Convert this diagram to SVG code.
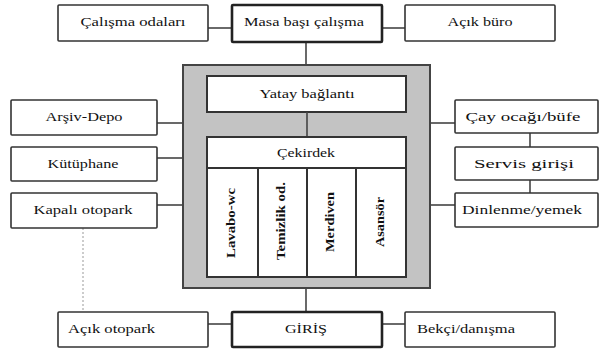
<svg xmlns="http://www.w3.org/2000/svg" width="602" height="354" viewBox="0 0 602 354">
<style>
.box{fill:#fff;stroke:#333;stroke-width:1.6}
.bold{fill:#fff;stroke:#222;stroke-width:2.6}
.core{fill:#c3c3c3;stroke:#444;stroke-width:2}
.inner{fill:#fff;stroke:#333;stroke-width:2}
.t{font-family:"Liberation Serif","DejaVu Serif","Times New Roman",serif;font-size:13px;fill:#111;text-anchor:middle}
.l{text-anchor:start}
.v{font-weight:bold}
.c line{stroke:#444;stroke-width:1.6}
.c .d{stroke:#999;stroke-width:1;stroke-dasharray:2,2}
</style>
<rect width="602" height="354" fill="#fff"/>
<g class="c" id="connectors">
<line x1="208" y1="28" x2="232" y2="28"/>
<line x1="382" y1="28" x2="405" y2="28"/>
<line x1="306" y1="42" x2="306" y2="65"/>
<line x1="157" y1="123" x2="183" y2="123"/>
<line x1="157" y1="158" x2="183" y2="158"/>
<line x1="157" y1="205" x2="183" y2="205"/>
<line x1="430" y1="123" x2="455" y2="123"/>
<line x1="430" y1="205" x2="455" y2="205"/>
<line x1="530" y1="133" x2="530" y2="147"/>
<line x1="530" y1="180" x2="530" y2="193"/>
<line x1="306" y1="288" x2="306" y2="312"/>
<line x1="208" y1="324" x2="232" y2="324"/>
<line x1="382" y1="324" x2="405" y2="324"/>
<line class="d" x1="83" y1="228" x2="83" y2="312"/>
</g>
<g id="core">
<rect class="core" x="183" y="65" width="247" height="223"/>
<g id="yatay"><rect class="inner" x="207" y="76" width="199" height="36"/><text class="t" x="307" y="98" textLength="95" lengthAdjust="spacingAndGlyphs">Yatay bağlantı</text></g>
<line x1="307" y1="112" x2="307" y2="137" stroke="#444" stroke-width="1.6"/>
<g id="cekirdek"><rect class="inner" x="207" y="137" width="199" height="140"/><line x1="207" y1="168" x2="406" y2="168" stroke="#333" stroke-width="2"/><text class="t" x="306" y="157" textLength="58" lengthAdjust="spacingAndGlyphs">Çekirdek</text></g>
<g id="lavabo"><rect class="inner" x="207" y="168" width="51" height="109"/><text class="t v" transform="translate(231,223) rotate(-90)" y="4" textLength="70" lengthAdjust="spacingAndGlyphs">Lavabo-wc</text></g>
<g id="temizlik"><rect class="inner" x="258" y="168" width="49" height="109"/><text class="t v" transform="translate(281,221) rotate(-90)" y="4" textLength="78" lengthAdjust="spacingAndGlyphs">Temizlik od.</text></g>
<g id="merdiven"><rect class="inner" x="307" y="168" width="49" height="109"/><text class="t v" transform="translate(330,222) rotate(-90)" y="4" textLength="60" lengthAdjust="spacingAndGlyphs">Merdiven</text></g>
<g id="asansor"><rect class="inner" x="356" y="168" width="50" height="109"/><text class="t v" transform="translate(380,222) rotate(-90)" y="4" textLength="50" lengthAdjust="spacingAndGlyphs">Asansör</text></g>
</g>
<g id="calisma"><rect class="box" x="58" y="5" width="150" height="36" rx="1"/><text class="t" x="133" y="26" textLength="105" lengthAdjust="spacingAndGlyphs">Çalışma odaları</text></g>
<g id="masa"><rect class="bold" x="232" y="5" width="150" height="37" rx="1"/><text class="t" x="304" y="26" textLength="120" lengthAdjust="spacingAndGlyphs">Masa başı çalışma</text></g>
<g id="acikburo"><rect class="box" x="405" y="5" width="150" height="36" rx="1"/><text class="t" x="480" y="26" textLength="65" lengthAdjust="spacingAndGlyphs">Açık büro</text></g>
<g id="arsiv"><rect class="box" x="11" y="100" width="146" height="35" rx="1"/><text class="t" x="84" y="121" textLength="77" lengthAdjust="spacingAndGlyphs">Arşiv-Depo</text></g>
<g id="kutuphane"><rect class="box" x="11" y="147" width="146" height="34" rx="1"/><text class="t" x="83" y="168" textLength="71" lengthAdjust="spacingAndGlyphs">Kütüphane</text></g>
<g id="kapali"><rect class="box" x="11" y="193" width="146" height="35" rx="1"/><text class="t" x="83" y="214" textLength="99" lengthAdjust="spacingAndGlyphs">Kapalı otopark</text></g>
<g id="cay"><rect class="box" x="455" y="100" width="143" height="33" rx="1"/><text class="t" x="523" y="121" textLength="115" lengthAdjust="spacingAndGlyphs">Çay ocağı/büfe</text></g>
<g id="servis"><rect class="box" x="455" y="147" width="143" height="33" rx="1"/><text class="t" x="524" y="168" textLength="100" lengthAdjust="spacingAndGlyphs">Servis girişi</text></g>
<g id="dinlenme"><rect class="box" x="455" y="193" width="143" height="34" rx="1"/><text class="t" x="522" y="214" textLength="120" lengthAdjust="spacingAndGlyphs">Dinlenme/yemek</text></g>
<g id="acikotopark"><rect class="box" x="58" y="312" width="150" height="35" rx="1"/><text class="t l" x="68" y="333" textLength="87" lengthAdjust="spacingAndGlyphs">Açık otopark</text></g>
<g id="giris"><rect class="bold" x="232" y="312" width="150" height="35" rx="1"/><text class="t" x="306" y="333" textLength="42" lengthAdjust="spacingAndGlyphs">GİRİŞ</text></g>
<g id="bekci"><rect class="box" x="405" y="312" width="150" height="35" rx="1"/><text class="t l" x="417" y="333" textLength="98" lengthAdjust="spacingAndGlyphs">Bekçi/danışma</text></g>
</svg>
